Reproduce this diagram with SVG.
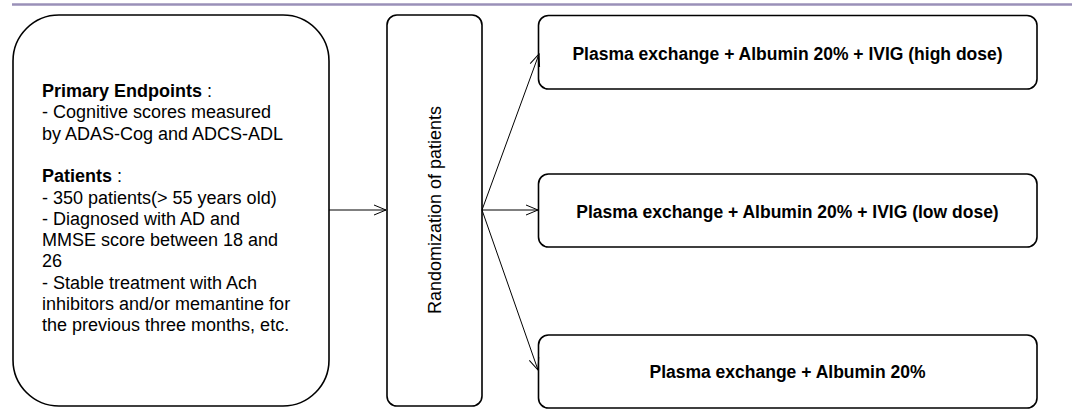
<svg xmlns="http://www.w3.org/2000/svg" width="1072" height="412" viewBox="0 0 1072 412">
<style>
.box{fill:#fff;stroke:#000;stroke-width:1.6}
.t{font-family:"Liberation Sans",Arial,sans-serif;font-size:18px;fill:#000}
.b{font-family:"Liberation Sans",Arial,sans-serif;font-size:17.5px;font-weight:bold;fill:#000}
.c{stroke:#000;stroke-width:1;fill:none}
</style>
<defs>
<marker id="ah" viewBox="0 0 14 12" refX="13" refY="6" markerWidth="14" markerHeight="12" markerUnits="userSpaceOnUse" orient="auto">
<path d="M1,1 L13,6 L1,11" fill="none" stroke="#000" stroke-width="1"/>
</marker>
</defs>
<line x1="12" y1="4.5" x2="1072" y2="4.5" stroke="#9a90b8" stroke-width="2.5"/>
<g id="criteria">
<rect class="box" x="13" y="15" width="316" height="391" rx="46" ry="46"/>
<text class="t" x="42" y="97"><tspan font-weight="bold">Primary Endpoints</tspan> :</text>
<text class="t" x="42" y="118.3">- Cognitive scores measured</text>
<text class="t" x="42" y="139.6">by ADAS-Cog and ADCS-ADL</text>
<text class="t" x="42" y="182.2"><tspan font-weight="bold">Patients</tspan> :</text>
<text class="t" x="42" y="203.5">- 350 patients(&gt; 55 years old)</text>
<text class="t" x="42" y="224.8">- Diagnosed with AD and</text>
<text class="t" x="42" y="246.1">MMSE score between 18 and</text>
<text class="t" x="42" y="267.4">26</text>
<text class="t" x="42" y="288.7">- Stable treatment with Ach</text>
<text class="t" x="42" y="310">inhibitors and/or memantine for</text>
<text class="t" x="42" y="331.3">the previous three months, etc.</text>
</g>
<g id="randomization">
<rect class="box" x="387" y="15" width="95" height="391" rx="10" ry="10"/>
<text class="t" text-anchor="middle" transform="translate(440.5,210) rotate(-90)">Randomization of patients</text>
</g>
<g id="arm-high">
<rect class="box" x="538.5" y="15.5" width="498.5" height="73.5" rx="10" ry="10"/>
<text class="b" x="787.5" y="60" text-anchor="middle">Plasma exchange + Albumin 20% + IVIG (high dose)</text>
</g>
<g id="arm-low">
<rect class="box" x="538.5" y="174" width="498.5" height="73" rx="10" ry="10"/>
<text class="b" x="787.5" y="218" text-anchor="middle">Plasma exchange + Albumin 20% + IVIG (low dose)</text>
</g>
<g id="arm-albumin">
<rect class="box" x="538.5" y="335" width="498.5" height="73" rx="10" ry="10"/>
<text class="b" x="787.5" y="378" text-anchor="middle">Plasma exchange + Albumin 20%</text>
</g>
<g id="connectors">
<line class="c" x1="329" y1="210" x2="386" y2="210" marker-end="url(#ah)"/>
<line class="c" x1="482" y1="210" x2="539" y2="54" marker-end="url(#ah)"/>
<line class="c" x1="482" y1="210" x2="538" y2="210" marker-end="url(#ah)"/>
<line class="c" x1="482" y1="210" x2="538" y2="370" marker-end="url(#ah)"/>
</g>
</svg>
